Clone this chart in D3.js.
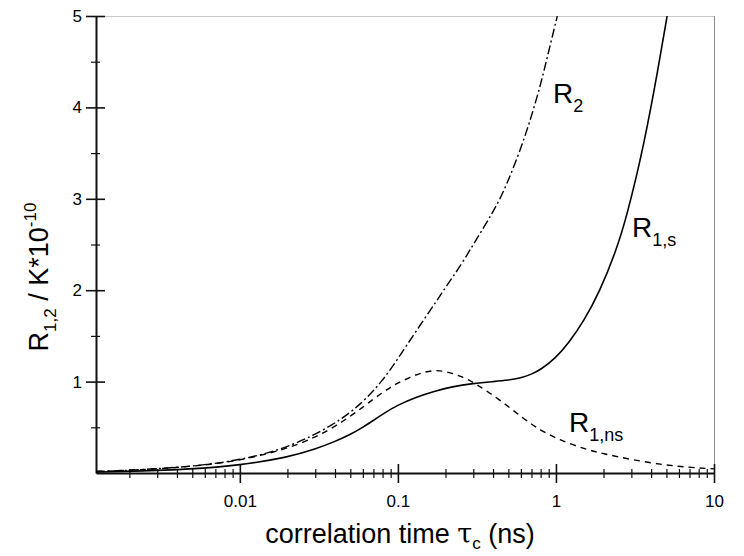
<!DOCTYPE html>
<html><head><meta charset="utf-8">
<script src="https://cdn.jsdelivr.net/npm/d3@7"></script>
<style>
html,body{margin:0;padding:0;background:#fff;}
svg text{font-family:"Liberation Sans",Arial,Helvetica,sans-serif;fill:#000;}
</style></head>
<body>
<svg id="chart" width="744" height="556"></svg>
<script>
// ---- data ----
const xMajorTicks = [0.01, 0.1, 1, 10];
const xMajorLabels = ["0.01", "0.1", "1", "10"];
const yMajorTicks = [1, 2, 3, 4, 5];
const yMinorTicks = [0.5, 1.5, 2.5, 3.5, 4.5];

// R1,s (solid)
const tauR1s = [0.00123, 0.002, 0.005, 0.01, 0.02, 0.03, 0.04, 0.05, 0.06, 0.07, 0.08, 0.1, 0.13, 0.17, 0.22, 0.3, 0.4, 0.5, 0.6, 0.7, 0.8, 1.0, 1.2, 1.5, 1.9, 2.4, 2.8, 3.6, 4.43, 5.05];
const R1s    = [0.0105,  0.017, 0.042, 0.085, 0.17, 0.26, 0.345, 0.42, 0.5, 0.575, 0.645, 0.745, 0.83, 0.895, 0.945, 0.98, 1.0, 1.015, 1.04, 1.08, 1.13, 1.26, 1.42, 1.66, 1.99, 2.43, 2.8, 3.58, 4.42, 5.0];

// R1,ns (dashed)
const tauR1ns = [0.00123, 0.002, 0.005, 0.01, 0.02, 0.03, 0.04, 0.05, 0.06, 0.07, 0.08, 0.09, 0.1, 0.12, 0.14, 0.167, 0.2, 0.25, 0.307, 0.443, 0.618, 0.8, 1.06, 1.5, 2.0, 3.08, 5.0, 7.0, 10.0];
const R1ns    = [0.017,   0.027, 0.068, 0.135, 0.265, 0.39, 0.51, 0.62, 0.72, 0.81, 0.88, 0.94, 0.985, 1.05, 1.095, 1.125, 1.115, 1.06, 0.985, 0.80, 0.60, 0.465, 0.36, 0.265, 0.21, 0.142, 0.085, 0.062, 0.045];

// R2 (dash-dot)
const tauR2 = [0.00123, 0.002, 0.005, 0.01, 0.02, 0.04, 0.06, 0.08, 0.1, 0.13, 0.177, 0.2, 0.25, 0.3, 0.35, 0.4, 0.443, 0.5, 0.6, 0.7, 0.8, 0.873, 1.02];
const R2    = [0.017,   0.028, 0.07,  0.14, 0.27, 0.53, 0.77, 1.01, 1.25, 1.55, 1.89, 2.03, 2.27, 2.5, 2.69, 2.86, 3.0, 3.2, 3.55, 3.9, 4.25, 4.52, 5.0];

// ---- layout ----
const svg = d3.select("#chart");
const L = 96, R = 714, T = 16, B = 473;
const x = d3.scaleLog().domain([0.00123, 10]).range([L, R]);
const y = d3.scaleLinear().domain([0, 5]).range([B, T]);

svg.append("defs").append("clipPath").attr("id","clip")
  .append("rect").attr("x",L).attr("y",T).attr("width",R-L).attr("height",B-T);

// frame (light top/right)
svg.append("line").attr("x1",L).attr("x2",R).attr("y1",T+0.5).attr("y2",T+0.5)
  .attr("stroke","#c8c8c8").attr("stroke-width",1);
svg.append("line").attr("x1",R+0.5).attr("x2",R+0.5).attr("y1",T).attr("y2",B)
  .attr("stroke","#8a8a8a").attr("stroke-width",1);

// minor x ticks
const xMinor = [];
[0.001,0.01,0.1,1].forEach(d => { for (let k=2;k<=9;k++){ const v=d*k; if (v>=x.domain()[0] && v<=10) xMinor.push(v);} });

const fontTick = "17px";
// bottom axis
const gx = svg.append("g").attr("transform",`translate(0,${B})`);
gx.call(d3.axisBottom(x).tickValues(xMajorTicks).tickFormat((d,i)=>xMajorLabels[i]).tickSizeInner(10).tickSizeOuter(0).tickPadding(12));
gx.select(".domain").attr("stroke","#111").attr("stroke-width",2);
gx.selectAll(".tick line").attr("y1",-9).attr("stroke","#111").attr("stroke-width",1.6);
gx.selectAll(".tick text").attr("font-size",fontTick).attr("font-family","Liberation Sans, Arial");
const gxm = svg.append("g").attr("transform",`translate(0,${B})`);
gxm.call(d3.axisBottom(x).tickValues(xMinor).tickFormat("").tickSizeInner(5).tickSizeOuter(0));
gxm.select(".domain").remove();
gxm.selectAll(".tick line").attr("y1",-4).attr("stroke","#111").attr("stroke-width",1.2);

// left axis
const gy = svg.append("g").attr("transform",`translate(${L},0)`);
gy.call(d3.axisLeft(y).tickValues(yMajorTicks).tickSizeInner(10).tickSizeOuter(0).tickPadding(4).tickFormat(d3.format("d")));
gy.select(".domain").attr("stroke","#111").attr("stroke-width",2);
gy.selectAll(".tick line").attr("x1",9).attr("x2",-10).attr("stroke","#111").attr("stroke-width",1.6);
gy.selectAll(".tick text").attr("font-size",fontTick).attr("font-family","Liberation Sans, Arial");
const gym = svg.append("g").attr("transform",`translate(${L},0)`);
gym.call(d3.axisLeft(y).tickValues(yMinorTicks).tickFormat("").tickSizeInner(5).tickSizeOuter(0));
gym.select(".domain").remove();
gym.selectAll(".tick line").attr("x1",4).attr("stroke","#111").attr("stroke-width",1.2);

// curves
const line = d3.line().x(d=>x(d[0])).y(d=>y(d[1])).curve(d3.curveBasis);
const plot = svg.append("g").attr("clip-path","url(#clip)");
plot.append("path").datum(d3.zip(tauR1ns, R1ns)).attr("d",line)
  .attr("fill","none").attr("stroke","#000").attr("stroke-width",1.4).attr("stroke-dasharray","6,5");
plot.append("path").datum(d3.zip(tauR2, R2)).attr("d",line)
  .attr("fill","none").attr("stroke","#000").attr("stroke-width",1.4).attr("stroke-dasharray","9,3,2,3");
plot.append("path").datum(d3.zip(tauR1s, R1s)).attr("d",line)
  .attr("fill","none").attr("stroke","#000").attr("stroke-width",1.6);

// curve labels
function lab(xp, yp, main, sub){
  const t = svg.append("text").attr("x",xp).attr("y",yp).attr("font-size","28px");
  t.append("tspan").text(main);
  t.append("tspan").attr("font-size","18px").attr("dy",9).text(sub);
}
lab(553, 103, "R", "2");
lab(632, 237, "R", "1,s");
lab(569, 432, "R", "1,ns");

// axis titles
const xt = svg.append("text").attr("x",400).attr("y",543).attr("text-anchor","middle").attr("font-size","27px");
xt.append("tspan").text("correlation time ");
xt.append("tspan").attr("font-family","DejaVu Serif, serif").text("τ");
xt.append("tspan").attr("font-size","17px").attr("dy",6).text("c");
xt.append("tspan").attr("dy",-6).text(" (ns)");

const yt = svg.append("text").attr("transform","translate(48,277) rotate(-90)").attr("text-anchor","middle").attr("font-size","27px");
yt.append("tspan").text("R");
yt.append("tspan").attr("font-size","17px").attr("dy",8).text("1,2");
yt.append("tspan").attr("dy",-8).text(" / K*10");
yt.append("tspan").attr("font-size","17px").attr("dy",-12).text("-10");
</script>
</body></html>
